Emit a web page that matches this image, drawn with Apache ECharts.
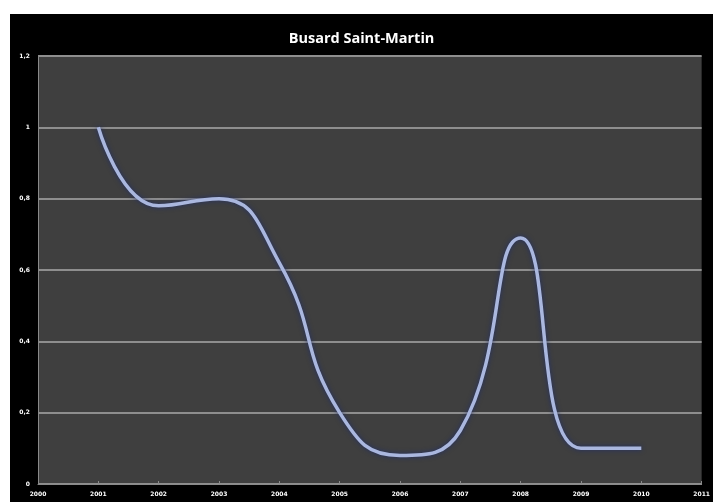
<!DOCTYPE html>
<html>
<head>
<meta charset="utf-8">
<script src="https://cdn.jsdelivr.net/npm/echarts@6/dist/echarts.min.js"></script>
<style>
html,body{margin:0;padding:0;background:#fff;width:713px;height:502px;overflow:hidden;}
#c{position:absolute;left:10px;top:14px;width:703px;height:488px;background:#000;}
</style>
</head>
<body>
<div id="c"></div>
<script>
const title = 'Busard Saint-Martin';
const years = [2001, 2002, 2003, 2004, 2005, 2006, 2007, 2008, 2009, 2010];
const values = [1.0, 0.78, 0.8, 0.62, 0.2, 0.08, 0.15, 0.69, 0.1, 0.1];
const xMin = 2000, xMax = 2011;
const yMin = 0, yMax = 1.2, yStep = 0.2;

const chart = echarts.init(document.getElementById('c'), null, {renderer: 'canvas'});
chart.setOption({
  backgroundColor: '#000',
  animation: false,
  title: {
    text: title, left: 'center', top: 12,
    textStyle: {color: '#fff', fontFamily: 'Open Sans', fontWeight: 'bold', fontSize: 14.5}
  },
  grid: {left: 28, top: 42, width: 665, height: 428, show: true, backgroundColor: '#3f3f3f', borderWidth: 0},
  xAxis: {
    type: 'value', min: xMin, max: xMax, interval: 1,
    axisLine: {show: true, lineStyle: {color: '#8a8a8a', width: 1}},
    axisTick: {show: true, inside: true, length: 3, lineStyle: {color: '#8a8a8a'}},
    splitLine: {show: false},
    axisLabel: {color: '#fff', fontSize: 6, fontWeight: 'bold', fontFamily: 'DejaVu Sans', margin: 7, formatter: v => String(v)}
  },
  yAxis: {
    type: 'value', min: yMin, max: yMax, interval: yStep,
    axisLine: {show: true, lineStyle: {color: '#8a8a8a', width: 1}},
    axisTick: {show: false},
    splitLine: {show: true, lineStyle: {color: '#8e8e8e', width: 2}},
    axisLabel: {color: '#fff', fontSize: 6, fontWeight: 'bold', fontFamily: 'DejaVu Sans', margin: 8,
      formatter: v => String(Math.round(v * 10) / 10).replace('.', ',')}
  },
  series: [{
    type: 'line',
    data: years.map((y, i) => [y, values[i]]),
    smooth: 0.5,
    showSymbol: false,
    lineStyle: {color: '#aab7de', width: 3.5, shadowColor: 'rgba(30,45,110,0.9)', shadowBlur: 5}
  }]
});
</script>
</body>
</html>
